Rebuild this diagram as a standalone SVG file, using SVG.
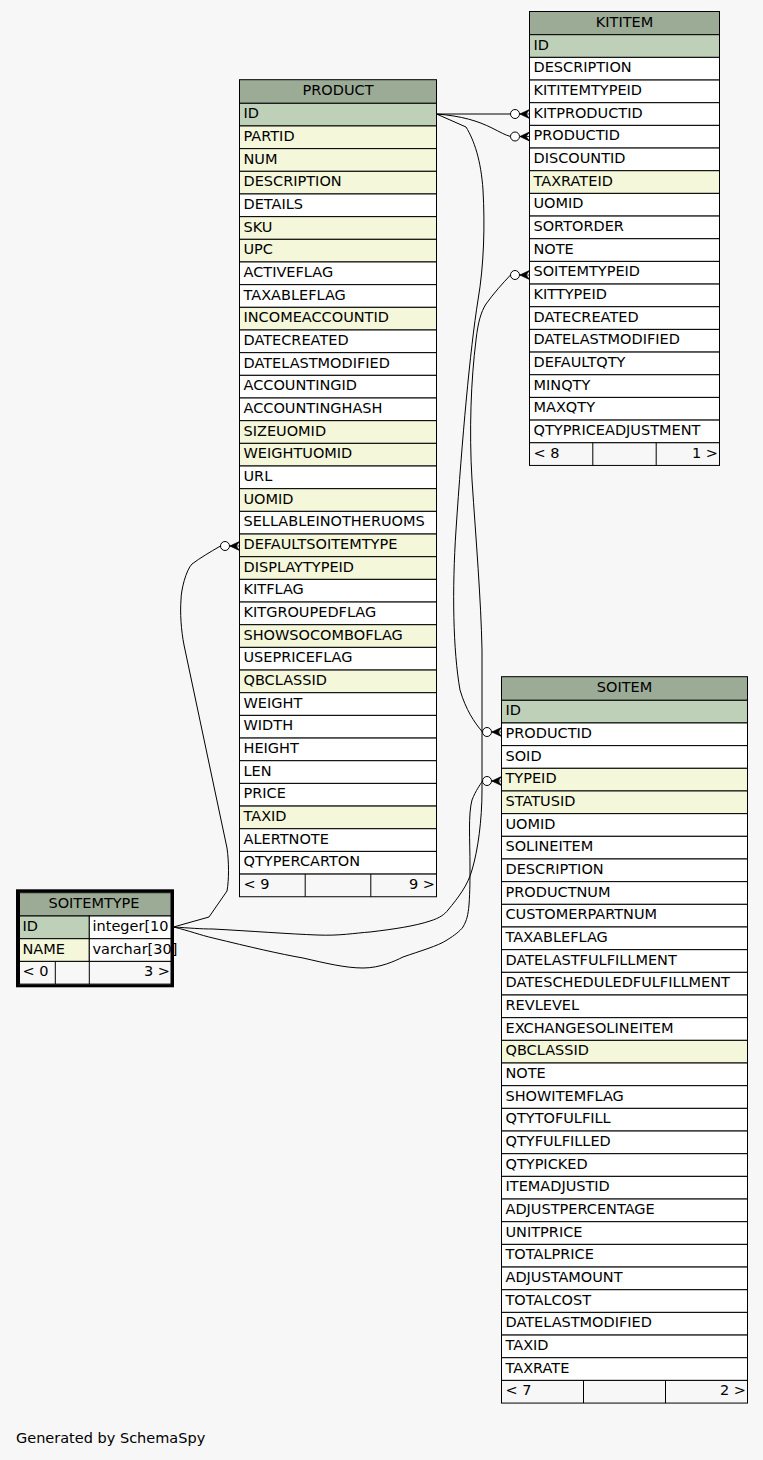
<svg xmlns="http://www.w3.org/2000/svg" xmlns:xlink="http://www.w3.org/1999/xlink" width="763" height="1460" viewBox="0 0 763 1460">
<style>
text{font-family:"DejaVu Sans","Liberation Sans",sans-serif;font-size:14.5px;fill:#000}
text.m{text-anchor:middle}
text.e{text-anchor:end}
rect.h,rect.k,rect.i,rect.w,rect.f{stroke:#000;stroke-width:1}
rect.h{fill:#9bab96}
rect.k{fill:#bed1b8}
rect.i{fill:#f4f7da}
rect.w{fill:#fff}
rect.f{fill:#f7f7f7}
rect.bg{fill:#f7f7f7;stroke:none}
rect.fr{fill:none;stroke:#000;stroke-width:3}
line.d{stroke:#000;stroke-width:1}
.c path{fill:none;stroke:#000;stroke-width:1}
</style>
<defs>
<g id="cf">
<circle cx="-14.5" cy="0" r="4.5" fill="#fff" stroke="#000" stroke-width="1"/>
<path d="M-9.5,0 L0,-4.5 L-3.5,0 L0,4.5 Z M-9.5,0 L0,0" fill="#000" stroke="#000" stroke-width="0.8"/>
</g>
</defs>
<rect class="bg" x="0" y="0" width="763" height="1460"/>

<g class="c" id="connectors">
<path d="M436.5,114 L510.5,114"/>
<path d="M436.5,114 C462,116 478,121 492,128 C500,132 505,135 510.5,136.5"/>
<path d="M436.5,114 L466,127 C474,140 481,160 483,190 C485,225 484,265 478,300 C470,350 462,440 456,530 C452,590 453,650 460,690 C466,710 474,722 482.5,732"/>
<path d="M173.5,927 C190,928 200,929 213,929 C250,931 290,934 317,935 C340,936 355,933 370,932 C395,929 415,926 430,921 C440,918 445,914 448,910 C458,898 468,885 472,870 C478,850 482,820 482,790 L482,650 C481,600 476,540 472,480 C469,430 471,380 476,340 C478,322 481,312 486,304 C494,293 502,284 510.5,275"/>
<path d="M173.5,927 C190,931 200,935 213,938 C250,947 280,954 303,958 C325,963 345,968 363,968 C380,968 395,961 403,957 C420,951 438,946 447,940 C455,935 460,931 463,927 C467,920 468,915 469,905 C470,890 470,880 470,866 C470,840 468,815 472,800 C476,790 480,785 482.5,781"/>
<path d="M173.5,927 L209,917 L227,891 C229,880 229,862 227,848 L184,645 C181,630 180,612 181,600 C181,590 186,570 192,564 C200,558 210,552 220.5,546"/>
<use xlink:href="#cf" transform="translate(529.5,114)"/>
<use xlink:href="#cf" transform="translate(529.5,136.5)"/>
<use xlink:href="#cf" transform="translate(529.5,275)"/>
<use xlink:href="#cf" transform="translate(501.5,732)"/>
<use xlink:href="#cf" transform="translate(501.5,781)"/>
<use xlink:href="#cf" transform="translate(239.5,546)"/>
</g>

<g id="KITITEM">
<rect class="h" x="529.5" y="11.5" width="190" height="23.2"/><text class="m" x="624.5" y="27">KITITEM</text>
<rect class="k" x="529.5" y="34.7" width="190" height="22.67"/><text x="533.5" y="49.7">ID</text>
<rect class="w" x="529.5" y="57.37" width="190" height="22.67"/><text x="533.5" y="72.37">DESCRIPTION</text>
<rect class="w" x="529.5" y="80.04" width="190" height="22.67"/><text x="533.5" y="95.04">KITITEMTYPEID</text>
<rect class="w" x="529.5" y="102.71" width="190" height="22.67"/><text x="533.5" y="117.71">KITPRODUCTID</text>
<rect class="w" x="529.5" y="125.38" width="190" height="22.67"/><text x="533.5" y="140.38">PRODUCTID</text>
<rect class="w" x="529.5" y="148.05" width="190" height="22.67"/><text x="533.5" y="163.05">DISCOUNTID</text>
<rect class="i" x="529.5" y="170.72" width="190" height="22.67"/><text x="533.5" y="185.72">TAXRATEID</text>
<rect class="w" x="529.5" y="193.39" width="190" height="22.67"/><text x="533.5" y="208.39">UOMID</text>
<rect class="w" x="529.5" y="216.06" width="190" height="22.67"/><text x="533.5" y="231.06">SORTORDER</text>
<rect class="w" x="529.5" y="238.73" width="190" height="22.67"/><text x="533.5" y="253.73">NOTE</text>
<rect class="w" x="529.5" y="261.4" width="190" height="22.67"/><text x="533.5" y="276.4">SOITEMTYPEID</text>
<rect class="w" x="529.5" y="284.07" width="190" height="22.67"/><text x="533.5" y="299.07">KITTYPEID</text>
<rect class="w" x="529.5" y="306.74" width="190" height="22.67"/><text x="533.5" y="321.74">DATECREATED</text>
<rect class="w" x="529.5" y="329.41" width="190" height="22.67"/><text x="533.5" y="344.41">DATELASTMODIFIED</text>
<rect class="w" x="529.5" y="352.08" width="190" height="22.67"/><text x="533.5" y="367.08">DEFAULTQTY</text>
<rect class="w" x="529.5" y="374.75" width="190" height="22.67"/><text x="533.5" y="389.75">MINQTY</text>
<rect class="w" x="529.5" y="397.42" width="190" height="22.67"/><text x="533.5" y="412.42">MAXQTY</text>
<rect class="w" x="529.5" y="420.09" width="190" height="22.67"/><text x="533.5" y="435.09">QTYPRICEADJUSTMENT</text>
<rect class="f" x="529.5" y="442.76" width="190" height="22.67"/>
<line class="d" x1="592.8" y1="442.76" x2="592.8" y2="465.43"/><line class="d" x1="656.2" y1="442.76" x2="656.2" y2="465.43"/>
<text x="533.5" y="457.76">&lt; 8</text><text class="e" x="718" y="457.76">1 &gt;</text>
</g>

<g id="PRODUCT">
<rect class="h" x="239.5" y="79.7" width="197" height="23.6"/><text class="m" x="338" y="95.2">PRODUCT</text>
<rect class="k" x="239.5" y="103.3" width="197" height="22.67"/><text x="243.5" y="118.3">ID</text>
<rect class="i" x="239.5" y="125.97" width="197" height="22.67"/><text x="243.5" y="140.97">PARTID</text>
<rect class="i" x="239.5" y="148.64" width="197" height="22.67"/><text x="243.5" y="163.64">NUM</text>
<rect class="i" x="239.5" y="171.31" width="197" height="22.67"/><text x="243.5" y="186.31">DESCRIPTION</text>
<rect class="w" x="239.5" y="193.98" width="197" height="22.67"/><text x="243.5" y="208.98">DETAILS</text>
<rect class="i" x="239.5" y="216.65" width="197" height="22.67"/><text x="243.5" y="231.65">SKU</text>
<rect class="i" x="239.5" y="239.32" width="197" height="22.67"/><text x="243.5" y="254.32">UPC</text>
<rect class="w" x="239.5" y="261.99" width="197" height="22.67"/><text x="243.5" y="276.99">ACTIVEFLAG</text>
<rect class="w" x="239.5" y="284.66" width="197" height="22.67"/><text x="243.5" y="299.66">TAXABLEFLAG</text>
<rect class="i" x="239.5" y="307.33" width="197" height="22.67"/><text x="243.5" y="322.33">INCOMEACCOUNTID</text>
<rect class="w" x="239.5" y="330" width="197" height="22.67"/><text x="243.5" y="345">DATECREATED</text>
<rect class="w" x="239.5" y="352.67" width="197" height="22.67"/><text x="243.5" y="367.67">DATELASTMODIFIED</text>
<rect class="w" x="239.5" y="375.34" width="197" height="22.67"/><text x="243.5" y="390.34">ACCOUNTINGID</text>
<rect class="w" x="239.5" y="398.01" width="197" height="22.67"/><text x="243.5" y="413.01">ACCOUNTINGHASH</text>
<rect class="i" x="239.5" y="420.68" width="197" height="22.67"/><text x="243.5" y="435.68">SIZEUOMID</text>
<rect class="i" x="239.5" y="443.35" width="197" height="22.67"/><text x="243.5" y="458.35">WEIGHTUOMID</text>
<rect class="w" x="239.5" y="466.02" width="197" height="22.67"/><text x="243.5" y="481.02">URL</text>
<rect class="i" x="239.5" y="488.69" width="197" height="22.67"/><text x="243.5" y="503.69">UOMID</text>
<rect class="w" x="239.5" y="511.36" width="197" height="22.67"/><text x="243.5" y="526.36">SELLABLEINOTHERUOMS</text>
<rect class="i" x="239.5" y="534.03" width="197" height="22.67"/><text x="243.5" y="549.03">DEFAULTSOITEMTYPE</text>
<rect class="i" x="239.5" y="556.7" width="197" height="22.67"/><text x="243.5" y="571.7">DISPLAYTYPEID</text>
<rect class="w" x="239.5" y="579.37" width="197" height="22.67"/><text x="243.5" y="594.37">KITFLAG</text>
<rect class="w" x="239.5" y="602.04" width="197" height="22.67"/><text x="243.5" y="617.04">KITGROUPEDFLAG</text>
<rect class="i" x="239.5" y="624.71" width="197" height="22.67"/><text x="243.5" y="639.71">SHOWSOCOMBOFLAG</text>
<rect class="w" x="239.5" y="647.38" width="197" height="22.67"/><text x="243.5" y="662.38">USEPRICEFLAG</text>
<rect class="i" x="239.5" y="670.05" width="197" height="22.67"/><text x="243.5" y="685.05">QBCLASSID</text>
<rect class="w" x="239.5" y="692.72" width="197" height="22.67"/><text x="243.5" y="707.72">WEIGHT</text>
<rect class="w" x="239.5" y="715.39" width="197" height="22.67"/><text x="243.5" y="730.39">WIDTH</text>
<rect class="w" x="239.5" y="738.06" width="197" height="22.67"/><text x="243.5" y="753.06">HEIGHT</text>
<rect class="w" x="239.5" y="760.73" width="197" height="22.67"/><text x="243.5" y="775.73">LEN</text>
<rect class="w" x="239.5" y="783.4" width="197" height="22.67"/><text x="243.5" y="798.4">PRICE</text>
<rect class="i" x="239.5" y="806.07" width="197" height="22.67"/><text x="243.5" y="821.07">TAXID</text>
<rect class="w" x="239.5" y="828.74" width="197" height="22.67"/><text x="243.5" y="843.74">ALERTNOTE</text>
<rect class="w" x="239.5" y="851.41" width="197" height="22.67"/><text x="243.5" y="866.41">QTYPERCARTON</text>
<rect class="f" x="239.5" y="874.08" width="197" height="22.67"/>
<line class="d" x1="305.2" y1="874.08" x2="305.2" y2="896.75"/><line class="d" x1="370.8" y1="874.08" x2="370.8" y2="896.75"/>
<text x="243.5" y="889.08">&lt; 9</text><text class="e" x="435" y="889.08">9 &gt;</text>
</g>

<g id="SOITEM">
<rect class="h" x="501.5" y="676.7" width="246" height="23.6"/><text class="m" x="624.5" y="692.4">SOITEM</text>
<rect class="k" x="501.5" y="700.3" width="246" height="22.67"/><text x="505.5" y="715.3">ID</text>
<rect class="w" x="501.5" y="722.97" width="246" height="22.67"/><text x="505.5" y="737.97">PRODUCTID</text>
<rect class="w" x="501.5" y="745.64" width="246" height="22.67"/><text x="505.5" y="760.64">SOID</text>
<rect class="i" x="501.5" y="768.31" width="246" height="22.67"/><text x="505.5" y="783.31">TYPEID</text>
<rect class="i" x="501.5" y="790.98" width="246" height="22.67"/><text x="505.5" y="805.98">STATUSID</text>
<rect class="w" x="501.5" y="813.65" width="246" height="22.67"/><text x="505.5" y="828.65">UOMID</text>
<rect class="w" x="501.5" y="836.32" width="246" height="22.67"/><text x="505.5" y="851.32">SOLINEITEM</text>
<rect class="w" x="501.5" y="858.99" width="246" height="22.67"/><text x="505.5" y="873.99">DESCRIPTION</text>
<rect class="w" x="501.5" y="881.66" width="246" height="22.67"/><text x="505.5" y="896.66">PRODUCTNUM</text>
<rect class="w" x="501.5" y="904.33" width="246" height="22.67"/><text x="505.5" y="919.33">CUSTOMERPARTNUM</text>
<rect class="w" x="501.5" y="927" width="246" height="22.67"/><text x="505.5" y="942">TAXABLEFLAG</text>
<rect class="w" x="501.5" y="949.67" width="246" height="22.67"/><text x="505.5" y="964.67">DATELASTFULFILLMENT</text>
<rect class="w" x="501.5" y="972.34" width="246" height="22.67"/><text x="505.5" y="987.34">DATESCHEDULEDFULFILLMENT</text>
<rect class="w" x="501.5" y="995.01" width="246" height="22.67"/><text x="505.5" y="1010.01">REVLEVEL</text>
<rect class="w" x="501.5" y="1017.68" width="246" height="22.67"/><text x="505.5" y="1032.68">EXCHANGESOLINEITEM</text>
<rect class="i" x="501.5" y="1040.35" width="246" height="22.67"/><text x="505.5" y="1055.35">QBCLASSID</text>
<rect class="w" x="501.5" y="1063.02" width="246" height="22.67"/><text x="505.5" y="1078.02">NOTE</text>
<rect class="w" x="501.5" y="1085.69" width="246" height="22.67"/><text x="505.5" y="1100.69">SHOWITEMFLAG</text>
<rect class="w" x="501.5" y="1108.36" width="246" height="22.67"/><text x="505.5" y="1123.36">QTYTOFULFILL</text>
<rect class="w" x="501.5" y="1131.03" width="246" height="22.67"/><text x="505.5" y="1146.03">QTYFULFILLED</text>
<rect class="w" x="501.5" y="1153.7" width="246" height="22.67"/><text x="505.5" y="1168.7">QTYPICKED</text>
<rect class="w" x="501.5" y="1176.37" width="246" height="22.67"/><text x="505.5" y="1191.37">ITEMADJUSTID</text>
<rect class="w" x="501.5" y="1199.04" width="246" height="22.67"/><text x="505.5" y="1214.04">ADJUSTPERCENTAGE</text>
<rect class="w" x="501.5" y="1221.71" width="246" height="22.67"/><text x="505.5" y="1236.71">UNITPRICE</text>
<rect class="w" x="501.5" y="1244.38" width="246" height="22.67"/><text x="505.5" y="1259.38">TOTALPRICE</text>
<rect class="w" x="501.5" y="1267.05" width="246" height="22.67"/><text x="505.5" y="1282.05">ADJUSTAMOUNT</text>
<rect class="w" x="501.5" y="1289.72" width="246" height="22.67"/><text x="505.5" y="1304.72">TOTALCOST</text>
<rect class="w" x="501.5" y="1312.39" width="246" height="22.67"/><text x="505.5" y="1327.39">DATELASTMODIFIED</text>
<rect class="w" x="501.5" y="1335.06" width="246" height="22.67"/><text x="505.5" y="1350.06">TAXID</text>
<rect class="w" x="501.5" y="1357.73" width="246" height="22.67"/><text x="505.5" y="1372.73">TAXRATE</text>
<rect class="f" x="501.5" y="1380.4" width="246" height="22.67"/>
<line class="d" x1="583.5" y1="1380.4" x2="583.5" y2="1403.07"/><line class="d" x1="665.5" y1="1380.4" x2="665.5" y2="1403.07"/>
<text x="505.5" y="1395.4">&lt; 7</text><text class="e" x="746" y="1395.4">2 &gt;</text>
</g>

<g id="SOITEMTYPE">
<rect class="h" x="19.5" y="892.7" width="151.5" height="23.3"/><text class="m" x="94" y="908.3">SOITEMTYPE</text>
<rect class="k" x="19.5" y="916" width="69.8" height="22.7"/><rect class="w" x="89.3" y="916" width="81.7" height="22.7"/>
<text x="22.5" y="931">ID</text><text x="92.5" y="931">integer[10</text>
<rect class="i" x="19.5" y="938.7" width="69.8" height="22.7"/><rect class="w" x="89.3" y="938.7" width="81.7" height="22.7"/>
<text x="22.5" y="953.7">NAME</text><text x="92.5" y="953.7">varchar[30]</text>
<rect class="f" x="19.5" y="961.4" width="151.5" height="22.7"/>
<line class="d" x1="55.3" y1="961.4" x2="55.3" y2="984.1"/><line class="d" x1="89.3" y1="961.4" x2="89.3" y2="984.1"/>
<text x="22.5" y="976.4">&lt; 0</text><text class="e" x="170" y="976.4">3 &gt;</text>
<rect class="fr" x="17.5" y="890.8" width="155" height="95"/>
</g>

<text x="16" y="1443">Generated by SchemaSpy</text>
</svg>
